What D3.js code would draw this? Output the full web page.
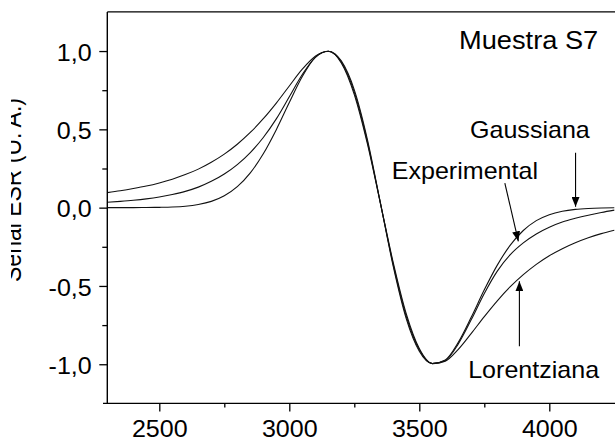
<!DOCTYPE html>
<html>
<head>
<meta charset="utf-8">
<script src="https://cdn.jsdelivr.net/npm/d3@7"></script>
<style>
  body { margin: 0; background: #fff; }
  svg { display: block; font-family: "Liberation Sans", Arial, sans-serif; }
  text { fill: #000; }
</style>
</head>
<body>
<div id="chart"></div>
<script>
// campo magnetico (G)
const campo = [2300, 2350, 2400, 2450, 2500, 2550, 2600, 2650, 2700, 2750,
  2800, 2850, 2900, 2950, 3000, 3050, 3100, 3150, 3200, 3250,
  3300, 3350, 3400, 3450, 3500, 3550, 3600, 3650, 3700, 3750,
  3800, 3850, 3900, 3950, 4000, 4050, 4100, 4150, 4200, 4250];

// señal normalizada
const gaussiana = [0.000, 0.000, 0.000, 0.001, 0.002, 0.004, 0.009, 0.020, 0.040, 0.076,
  0.134, 0.222, 0.344, 0.498, 0.671, 0.837, 0.959, 0.999, 0.924, 0.722,
  0.410, 0.031, -0.353, -0.679, -0.900, -0.995, -0.972, -0.860, -0.699, -0.525,
  -0.367, -0.239, -0.146, -0.083, -0.045, -0.023, -0.011, -0.005, -0.002, -0.001];

const experimental = [0.034, 0.040, 0.047, 0.056, 0.068, 0.084, 0.104, 0.131, 0.168, 0.215,
  0.275, 0.352, 0.448, 0.567, 0.708, 0.850, 0.960, 0.999, 0.930, 0.737,
  0.424, 0.032, -0.365, -0.695, -0.908, -0.996, -0.976, -0.870, -0.715, -0.548,
  -0.405, -0.300, -0.225, -0.168, -0.125, -0.092, -0.068, -0.048, -0.031, -0.016];

const lorentziana = [0.096, 0.108, 0.122, 0.138, 0.158, 0.182, 0.211, 0.246, 0.290, 0.342,
  0.405, 0.480, 0.568, 0.668, 0.777, 0.884, 0.967, 0.999, 0.937, 0.752,
  0.438, 0.034, -0.377, -0.710, -0.917, -0.996, -0.980, -0.905, -0.803, -0.696,
  -0.595, -0.505, -0.428, -0.362, -0.307, -0.262, -0.224, -0.192, -0.166, -0.144];

const xTicks = [2500, 3000, 3500, 4000];
const xMinor = [2750, 3250, 3750];
const yTicks = [-1.0, -0.5, 0.0, 0.5, 1.0];
const yMinor = [-0.75, -0.25, 0.25, 0.75];

// anotaciones: [texto, x, y] y flechas [x1, y1, x2, y2]
const etiquetas = [
  ["Gaussiana", 3695, 0.442],
  ["Experimental", 3394, 0.181],
  ["Lorentziana", 3688, -1.087]
];
const flechas = [
  [4101, 0.35, 4101, 0.005],
  [3829, 0.157, 3881, -0.215],
  [3885, -0.885, 3885, -0.47]
];

const width = 615, height = 440;
const stretch = 1.09;

const svg = d3.select("#chart").append("svg")
  .attr("width", width).attr("height", height);

const x = d3.scaleLinear().domain([2300, 4250]).range([107.3, 614.3]);
const y = d3.scaleLinear().domain([-1.25, 1.25]).range([403.4, 11.9]);

const fmt = d => (d < 0 ? "-" : "") + Math.abs(d).toFixed(1).replace(".", ",");

// marcador de flecha
svg.append("defs").append("marker")
  .attr("id", "punta")
  .attr("viewBox", "0 0 10 8")
  .attr("refX", 10).attr("refY", 4)
  .attr("markerWidth", 10).attr("markerHeight", 8)
  .attr("markerUnits", "userSpaceOnUse")
  .attr("orient", "auto")
  .append("path").attr("d", "M0,0 L10,4 L0,8 Z").attr("fill", "#000");

// curvas
const line = d3.line()
  .x((d, i) => x(campo[i]))
  .y(d => y(d))
  .curve(d3.curveMonotoneX);

[gaussiana, experimental, lorentziana].forEach(serie => {
  svg.append("path")
    .datum(serie)
    .attr("d", line)
    .attr("fill", "none")
    .attr("stroke", "#111")
    .attr("stroke-width", 1.1);
});

// marco superior
svg.append("line")
  .attr("x1", x(2300)).attr("x2", width + 2)
  .attr("y1", y(1.25)).attr("y2", y(1.25))
  .attr("stroke", "#000").attr("stroke-width", 1.4);

// eje x
const gx = svg.append("g").attr("transform", `translate(0,${y(-1.25)})`);
gx.call(d3.axisBottom(x).tickValues(xTicks).tickSize(8).tickFormat(d3.format("d")));
gx.append("g").call(d3.axisBottom(x).tickValues(xMinor).tickSize(4).tickFormat(""));
gx.selectAll(".domain").remove();
gx.append("line").attr("x1", 103).attr("x2", width + 2)
  .attr("stroke", "#000").attr("stroke-width", 1.4);
gx.selectAll(".tick line").attr("stroke", "#000").attr("stroke-width", 1.3);
gx.selectAll(".tick text")
  .attr("y", 33.5).attr("dy", 0)
  .attr("transform", `scale(${stretch},1)`)
  .style("font-size", "23px")
  .style("font-family", "'Liberation Sans', Arial, sans-serif");

// eje y
const gy = svg.append("g").attr("transform", `translate(${x(2300)},0)`);
gy.call(d3.axisLeft(y).tickValues(yTicks).tickSize(8).tickPadding(6.3).tickFormat(fmt));
gy.append("g").call(d3.axisLeft(y).tickValues(yMinor).tickSize(5).tickFormat(""));
gy.selectAll(".domain").remove();
gy.append("line").attr("y1", y(1.25)).attr("y2", y(-1.25))
  .attr("stroke", "#000").attr("stroke-width", 1.4);
gy.selectAll(".tick line").attr("stroke", "#000").attr("stroke-width", 1.3);
gy.selectAll(".tick text")
  .attr("dy", "0.4em")
  .attr("transform", `scale(${stretch},1)`)
  .style("font-size", "23px")
  .style("font-family", "'Liberation Sans', Arial, sans-serif");

// titulo eje y (cortado en el borde izquierdo)
svg.append("text")
  .attr("transform", `translate(20.5,190) rotate(-90) scale(1,${stretch})`)
  .attr("text-anchor", "middle")
  .style("font-size", "23px")
  .text("Señal ESR (U. A.)");
svg.append("rect").attr("x", 0).attr("y", 0).attr("width", 11).attr("height", height).attr("fill", "#fff");

// textos
function texto(t, px, py, size) {
  svg.append("text")
    .attr("transform", `translate(${px},${py}) scale(${stretch},1)`)
    .style("font-size", size + "px")
    .text(t);
}
texto("Muestra S7", 459, 49, 25);
etiquetas.forEach(e => texto(e[0], x(e[1]), y(e[2]), 23));

// flechas
flechas.forEach(f => {
  svg.append("line")
    .attr("x1", x(f[0])).attr("y1", y(f[1]))
    .attr("x2", x(f[2])).attr("y2", y(f[3]))
    .attr("stroke", "#000").attr("stroke-width", 1.1)
    .attr("marker-end", "url(#punta)");
});
</script>
</body>
</html>
